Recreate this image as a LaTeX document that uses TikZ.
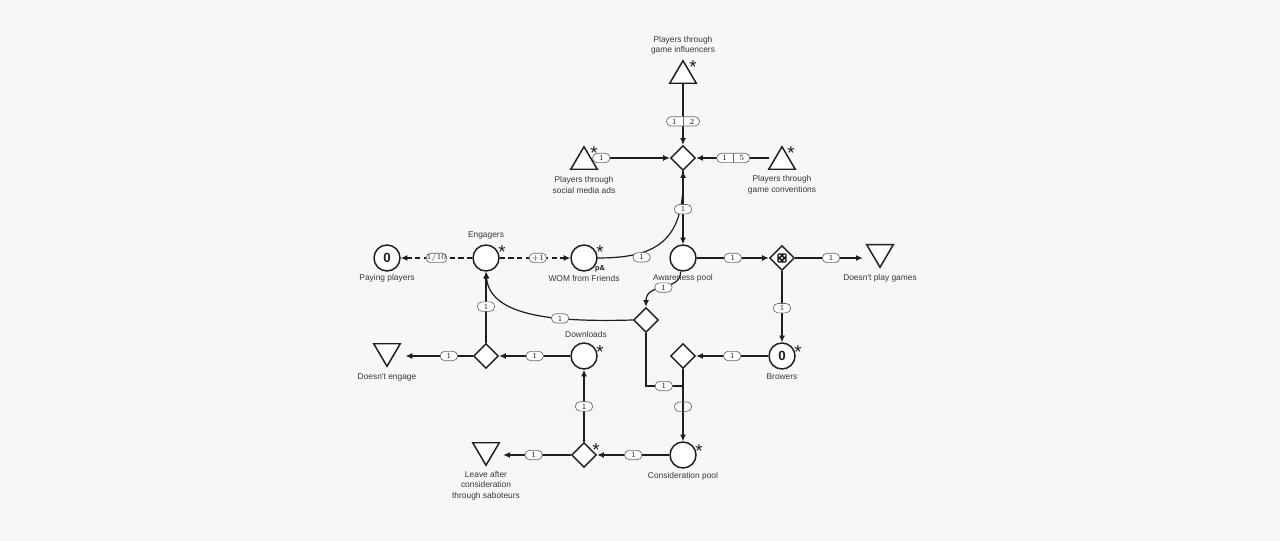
\documentclass[tikz,border=0pt]{standalone}
\usepackage{fontspec}
\newfontfamily\lsans{Liberation Sans}
\usetikzlibrary{shapes.geometric,arrows.meta,calc}
\definecolor{bg}{RGB}{247,247,247}
\definecolor{ink}{RGB}{30,30,30}
\definecolor{txt}{RGB}{55,55,55}
\definecolor{pillc}{RGB}{105,105,105}
\begin{document}
\begin{tikzpicture}[x=0.75pt,y=-0.75pt,
  pool/.style={circle,draw=ink,line width=1.1pt,fill=white,minimum size=19.5pt,inner sep=0},
  gate/.style={diamond,draw=ink,line width=1.1pt,fill=white,minimum width=18.75pt,minimum height=18.75pt,inner sep=0},
  tribox/.style={minimum width=19.5pt,minimum height=16.5pt,inner sep=0},
  tri/.style={draw=ink,line width=1.1pt,fill=white,line join=miter},
  flow/.style={draw=ink,line width=0.9pt,-{Latex[length=5pt,width=4.5pt]}},
  link/.style={draw=ink,line width=0.9pt},
  dflow/.style={flow,dash pattern=on 4pt off 2.5pt},
  lbl/.style={draw=pillc,line width=0.5pt,fill=white,rounded corners=3.4pt,inner sep=0,minimum width=13pt,minimum height=7pt,font=\fontsize{6}{6.5}\selectfont,text=ink,solid},
  lblwide/.style={lbl,minimum width=24.75pt},
  txtlbl/.style={font=\lsans\fontsize{6.3}{7.9}\selectfont,text=txt,align=center,inner sep=0},
  starmark/.style={font=\lsans\fontsize{14}{14}\selectfont,inner sep=0,anchor=base,text=ink},
  zero/.style={font=\lsans\bfseries\fontsize{10}{10}\selectfont,text=ink}
]
\fill[bg] (0,0) rectangle (1280,541);
\useasboundingbox (0,0) rectangle (1280,541);

% sources (triangles up)
\node[tribox] (infl) at (683,72) {};
\node[tribox] (social) at (584,158) {};
\node[tribox] (conv) at (782,158) {};
\foreach \t in {infl,social,conv}
  \draw[tri] (\t.south west) -- (\t.south east) -- (\t.north) -- cycle;
% drains (triangles down)
\node[tribox] (nogames) at (880,256) {};
\node[tribox] (noeng) at (387,355) {};
\node[tribox] (leave) at (486,454) {};
\foreach \t in {nogames,noeng,leave}
  \draw[tri] (\t.north west) -- (\t.north east) -- (\t.south) -- cycle;

% pools
\node[pool,zero] (pay) at (387,258) {0};
\node[pool] (eng) at (486,258) {};
\node[pool] (wom) at (584,258) {};
\node[pool] (aw) at (683,258) {};
\node[pool,zero] (br) at (782,356) {0};
\node[pool] (dl) at (584,356) {};
\node[pool] (cons) at (683,455) {};

% gates
\node[gate] (g1) at (683,158) {};
\node[gate] (dice) at (782,258) {};
\node[gate] (g3) at (646,320) {};
\node[gate] (g2) at (683,356) {};
\node[gate] (g5) at (486,356) {};
\node[gate] (g4) at (584,455) {};
\fill[ink,rounded corners=1pt] ($(dice)+(-4.7,-4.7)$) rectangle ($(dice)+(4.7,4.7)$);
\foreach \dx/\dy in {-2.4/-2.4,2.4/-2.4,0/0,-2.4/2.4,2.4/2.4}
  \fill[white] ($(dice)+(\dx,\dy)$) circle[radius=1.1];

\coordinate (joint) at (683,386);

% connectors
\draw[flow] (infl) -- node[lblwide,pos=0.62] (l12) {1\hspace{9.4pt}2} (g1);
\draw[pillc,line width=0.5pt] (l12.north) -- (l12.south);
\draw[flow] (social) -- node[lbl,pos=0.055] {1} (g1);
\draw[flow] (conv) -- node[lblwide,pos=0.49] (l15) {1\hspace{9.4pt}5} (g1);
\draw[pillc,line width=0.5pt] (l15.north) -- (l15.south);
\draw[flow] (wom.east) .. controls (655,258) and (684,242) .. (g1.south)
  node[lbl,pos=0.3,yshift=-3.5pt] {1};
\draw[flow] (g1) -- node[lbl,pos=0.52] {1} (aw);
\draw[flow] (aw) -- node[lbl] {1} (dice);
\draw[flow,shorten >=3pt] (dice.east) -- node[lbl] {1} (dice.east -| nogames.west);
\draw[flow] (dice) -- node[lbl,pos=0.52] {1} (br);
\draw[flow] (br) -- node[lbl] {1} (g2);
\draw[flow] (g2) -- node[lbl,pos=0.52,fill=none] {} (cons);
\draw[flow] (aw.-100) .. controls (681,292) and (646,282) .. (g3.north)
  node[lbl,pos=0.5] {1};
\draw[flow] (g3.west) .. controls (560,322) and (490,318) .. (eng.south)
  node[lbl,pos=0.35] {1};
\draw[link] (g3.south) |- node[lbl,pos=0.74] {1} (joint);
\draw[flow] (cons) -- node[lbl] {1} (g4);
\draw[flow] (g4) -- node[lbl,pos=0.49] {1} (dl);
\draw[flow,shorten >=3pt] (g4.west) -- node[lbl,pos=0.52] {1} (g4.west -| leave.east);
\draw[flow] (dl) -- node[lbl] {1} (g5);
\draw[flow] (g5) -- node[lbl,pos=0.51] {1} (eng);
\draw[flow,shorten >=4pt] (g5.west) -- node[lbl,pos=0.33] {1} (g5.west -| noeng.east);
\draw[dflow] (eng) -- node[lbl,minimum width=15.5pt] {1/10} (pay);
\draw[dflow] (eng) -- node[lbl,pos=0.54] {+1} (wom);

% stars
\foreach \p in {(693,74),(594,160),(791,160),(502,259),(600,259),(798,358),(600,358),(596,456),(699,457)}
  \node[starmark] at \p {*};
\node[font=\lsans\bfseries\fontsize{5.5}{6}\selectfont,text=ink,inner sep=0] at (600,269) {p\&};

% texts
\node[txtlbl] at (683,45.5) {Players through\\game influencers};
\node[txtlbl] at (584,185) {Players through\\social media ads};
\node[txtlbl] at (782,185) {Players through\\game conventions};
\node[txtlbl] at (387,278) {Paying players};
\node[txtlbl] at (486,235) {Engagers};
\node[txtlbl] at (584,278) {WOM from Friends};
\node[txtlbl] at (683,278) {Awareness pool};
\node[txtlbl] at (880,278) {Doesn't play games};
\node[txtlbl] at (586,334) {Downloads};
\node[txtlbl] at (782,377) {Browers};
\node[txtlbl] at (387,377) {Doesn't engage};
\node[txtlbl] at (683,476) {Consideration pool};
\node[txtlbl] at (486,485.5) {Leave after\\consideration\\through saboteurs};
\end{tikzpicture}
\end{document}
